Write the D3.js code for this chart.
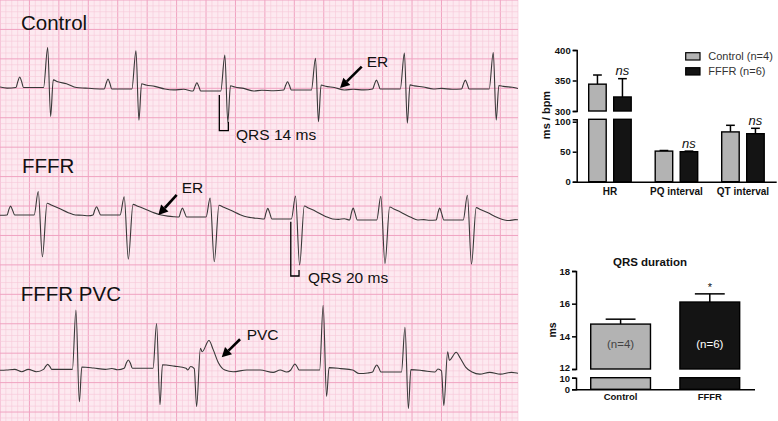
<!DOCTYPE html>
<html>
<head>
<meta charset="utf-8">
<script src="https://cdn.jsdelivr.net/npm/d3@7"></script>
<style>
  body { margin: 0; background: #fff; }
  svg { display: block; font-family: "Liberation Sans", Arial, sans-serif; }
</style>
</head>
<body>
<svg id="fig" width="778" height="421"></svg>
<script>
// ECG data: t in ms (1 small square = 10 ms), amplitudes in mm of paper
// beat fields: p = P wave, r = R peak, s = S depth, j = J hump, b = baseline shift
var controlBeats = [
  {t: 81,  p: 1.8, r: 6.8, s: 4.9, j: 1.3, b: 0.25},
  {t: 231, p: 1.7, r: 6.5, s: 5.3, j: 0.9, b: 0},
  {t: 382, p: 1.4, r: 6.1, s: 5.3, j: 0.9, b: -0.35},
  {t: 536, p: 1.4, r: 5.4, s: 5.4, j: 0.85, b: -0.17},
  {t: 687, p: 1.5, r: 6.1, s: 5.8, j: 0.7, b: 0},
  {t: 838, p: 1.5, r: 6.2, s: 5.3, j: 0.6, b: 0}
];
var controlWiggle = [[0, 0.35], [12, 0.15], [145, 0.15], [160, 0.05], [295, -0.15], [312, -0.05],
  [445, -0.2], [465, -0.3], [600, -0.05], [618, -0.15], [750, 0.1], [768, -0.05], [900, 0]];

var fffrBeats = [
  {t: 65,  p: 1.5, r: 4.0, s: 7.1, j: 2.0, b: 0.34},
  {t: 211, p: 1.4, r: 3.1, s: 7.5, j: 1.8, b: 0.34},
  {t: 357, p: 1.5, r: 3.2, s: 7.6, j: 2.0, b: 0},
  {t: 502, p: 1.8, r: 3.9, s: 7.8, j: 2.2, b: -0.34},
  {t: 647, p: 2.0, r: 4.0, s: 7.4, j: 2.2, b: -0.5},
  {t: 794, p: 2.0, r: 4.2, s: 7.5, j: 2.1, b: -0.5}
];
var fffrWiggle = [[0, 0.3], [140, 0.3], [150, 0.2], [285, 0.15], [295, 0.05], [430, -0.15], [440, -0.25],
  [575, -0.4], [585, -0.3], [720, -0.45], [730, -0.55], [865, -0.6], [875, -0.45], [890, -0.5]];

// type n = normal beat, v = PVC (t at the S nadir); q = pre-bump, n = notch, h = hump
var pvcBeats = [
  {type: 'n', t: 129, p: 0.85, r: 10.1, s: 5.5, j: 0.4, b: 0.1},
  {type: 'n', t: 266, p: 1.4, r: 7.6, s: 6.2, j: 0.6, b: 0.3},
  {type: 'v', t: 334, q: 0.6, s: 6.2, r: 3.7, n: 3.1, h: 5.0, b: 0},
  {type: 'n', t: 549, p: 1.0, r: 11.0, s: 4.5, j: 0.4, b: 0},
  {type: 'n', t: 688, p: 1.2, r: 7.6, s: 6.2, j: 0.4, b: -0.34},
  {type: 'v', t: 754, q: 0.5, s: 5.7, r: 3.45, n: 2.0, h: 3.35, b: -0.34}
];
var pvcWiggle = [[0, -0.05], [11, 0], [25, 0.1], [37, -0.3], [48, 0.1], [62, -0.3], [190, 0.25], [200, 0.05],
  [396, -0.3], [419, 0], [442, 0], [464, -0.4], [476, 0], [487, -0.35], [610, -0.6], [625, -0.5],
  [815, -0.7], [832, -0.4], [850, -0.7], [869, -0.4], [880, -0.55], [895, -0.5]];

// beat shapes: [ms from R, field, factor]
var controlShape = [[-54, 'p', 0], [-50.5, 'p', 0.6], [-47.5, 'p', 1], [-44.5, 'p', 0.6], [-41, 'p', 0],
  [-7, 'r', 0], [0, 'r', 1], [5, 's', -1], [9.5, 'j', 1], [17, 'j', 0.75], [32, 'j', 0.5], [49, 'j', 0]];
var fffrShape = [[-53, 'p', 0], [-50, 'p', 0.6], [-47, 'p', 1], [-44, 'p', 0.6], [-40, 'p', 0],
  [-7, 'r', 0], [0, 'r', 1], [7, 's', -1], [15, 'j', 1], [22, 'j', 0.85], [34, 'j', 0.6], [51, 'j', 0.2], [63, 'j', 0]];
var pvcNormalShape = [[-55, 'p', 0], [-51.5, 'p', 0.6], [-48, 'p', 1], [-44.5, 'p', 0.6], [-41, 'p', 0],
  [-6, 'r', 0], [0, 'r', 1], [5.8, 's', -1], [10, 'j', 1], [30, 'j', 0.6], [50, 'j', 0]];
var pvcEctopicShape = [[-15, 'q', 0], [-10, 'q', 1], [-4, 'q', 0.4], [0, 's', -1], [6.5, 'r', 1], [9.4, 'n', 1],
  [21, 'h', 1], [28, 'h', 0.7], [37, 'h', 0.25], [48, 'h', 0]];

// bar chart data
var c1Cats = ['HR', 'PQ interval', 'QT interval'];
var c1Groups = ['Control', 'FFFR'];
var c1Legend = ['Control (n=4)', 'FFFR (n=6)'];
var c1ControlMean = [344, 51, 83];
var c1ControlSem = [15, 1, 11];
var c1FfffrMean = [323, 50, 80];
var c1FfffrSem = [30, 1, 9];
var c1Sig = ['ns', 'ns', 'ns'];

var qrsGroups = ['Control', 'FFFR'];
var qrsMean = [14.75, 16.1];
var qrsSem = [0.3, 0.5];
var qrsN = ['(n=4)', '(n=6)'];
var qrsSig = ['', '*'];

var svg = d3.select('#fig');
var GRAY = '#b3b3b3', BLACK = '#141414';

// ---------------- ECG paper ----------------
var paperW = 518, paperH = 421;
var ecgX = d3.scaleLinear().domain([0, 880]).range([0, paperW]);
var mmPx = ecgX(10) - ecgX(0);
var paperY = d3.scaleLinear().domain([0, 1]).range([0, mmPx]);

var paper = svg.append('g');
paper.append('rect').attr('width', paperW).attr('height', paperH).attr('fill', '#fde9f0');

var vLines = d3.range(0, 881, 10);
var hLines = d3.range(0, Math.floor(paperH / mmPx) + 1);

paper.selectAll('.vgrid').data(vLines).enter().append('line')
  .attr('x1', function(d) { return ecgX(d); })
  .attr('x2', function(d) { return ecgX(d); })
  .attr('y1', 0).attr('y2', paperH)
  .attr('stroke', function(d) { return d % 50 === 0 ? '#f0a3c1' : '#f7c8d8'; })
  .attr('stroke-width', function(d) { return d % 50 === 0 ? 1 : 0.6; });

paper.selectAll('.hgrid').data(hLines).enter().append('line')
  .attr('y1', function(d) { return paperY(d); })
  .attr('y2', function(d) { return paperY(d); })
  .attr('x1', 0).attr('x2', paperW)
  .attr('stroke', function(d) { return d % 5 === 0 ? '#f0a3c1' : '#f7c8d8'; })
  .attr('stroke-width', function(d) { return d % 5 === 0 ? 1 : 0.6; });

svg.append('clipPath').attr('id', 'paperClip')
  .append('rect').attr('width', paperW).attr('height', paperH);

var traces = [
  {label: 'Control', beats: controlBeats, wiggle: controlWiggle, shapes: {n: controlShape}, base: 89,
   labelAt: [35.7, 10.0]},
  {label: 'FFFR', beats: fffrBeats, wiggle: fffrWiggle, shapes: {n: fffrShape}, base: 217,
   labelAt: [37.4, 7.48]},
  {label: 'FFFR PVC', beats: pvcBeats, wiggle: pvcWiggle, shapes: {n: pvcNormalShape, v: pvcEctopicShape}, base: 370,
   labelAt: [35.2, 11.77]}
];

function tracePoints(tr) {
  var pts = [];
  tr.beats.forEach(function(bt) {
    tr.shapes[bt.type || 'n'].forEach(function(k) {
      pts.push([bt.t + k[0], k[2] * bt[k[1]] + bt.b]);
    });
  });
  tr.wiggle.forEach(function(w) { pts.push(w); });
  pts.sort(function(a, b) { return a[0] - b[0]; });
  return pts;
}

traces.forEach(function(tr) {
  tr.y = d3.scaleLinear().domain([0, 1]).range([tr.base, tr.base - mmPx]);
  var line = d3.line()
    .x(function(d) { return ecgX(d[0]); })
    .y(function(d) { return tr.y(d[1]); })
    .curve(d3.curveMonotoneX);

  svg.append('path')
    .datum(tracePoints(tr))
    .attr('clip-path', 'url(#paperClip)')
    .attr('d', line)
    .attr('fill', 'none')
    .attr('stroke', '#383838')
    .attr('stroke-width', 1.1)
    .attr('stroke-linejoin', 'round');

  svg.append('text')
    .attr('x', ecgX(tr.labelAt[0]))
    .attr('y', tr.y(tr.labelAt[1]))
    .attr('font-size', 20.5)
    .attr('fill', '#111')
    .text(tr.label);
});

// annotations (ms / mm in each trace's own scale)
var arrows = [
  {trace: 0, from: [614.5, 3.79], to: [577.7, 0.17], text: 'ER', textAt: [623, 3.79]},
  {trace: 1, from: [300.2, 3.74], to: [269, 0.34], text: 'ER', textAt: [308.7, 4.03]},
  {trace: 2, from: [407.8, 5.22], to: [376.7, 2.16], text: 'PVC', textAt: [419, 5.1]}
];
var brackets = [
  {trace: 0, t0: 372.6, t1: 387.9, top: -1.02, bottom: -7.08, right: -5.56, text: 'QRS 14 ms', textAt: [401, -8.66]},
  {trace: 1, t0: 494, t1: 508, top: -0.8, bottom: -10.02, right: -9.0, text: 'QRS 20 ms', textAt: [523.3, -11.26]}
];

arrows.forEach(function(a) {
  var ty = traces[a.trace].y;
  var x0 = ecgX(a.from[0]), y0 = ty(a.from[1]);
  var x1 = ecgX(a.to[0]), y1 = ty(a.to[1]);
  var ang = Math.atan2(y1 - y0, x1 - x0);
  var headLen = 9.5, headHalf = 5;
  var bx = x1 - headLen * Math.cos(ang), by = y1 - headLen * Math.sin(ang);
  svg.append('line')
    .attr('x1', x0).attr('y1', y0).attr('x2', bx).attr('y2', by)
    .attr('stroke', '#000').attr('stroke-width', 2.6);
  svg.append('path')
    .attr('d', 'M' + x1 + ',' + y1 +
      'L' + (bx + headHalf * Math.sin(ang)) + ',' + (by - headHalf * Math.cos(ang)) +
      'L' + (bx - headHalf * Math.sin(ang)) + ',' + (by + headHalf * Math.cos(ang)) + 'Z')
    .attr('fill', '#000');
  svg.append('text')
    .attr('x', ecgX(a.textAt[0])).attr('y', ty(a.textAt[1]))
    .attr('font-size', 15.5).attr('fill', '#111')
    .text(a.text);
});

brackets.forEach(function(b) {
  var ty = traces[b.trace].y;
  svg.append('path')
    .attr('d', 'M' + ecgX(b.t0) + ',' + ty(b.top) +
      'V' + ty(b.bottom) + 'H' + ecgX(b.t1) + 'V' + ty(b.right))
    .attr('fill', 'none').attr('stroke', '#000').attr('stroke-width', 1.3);
  svg.append('text')
    .attr('x', ecgX(b.textAt[0])).attr('y', ty(b.textAt[1]))
    .attr('font-size', 15.5).attr('fill', '#111')
    .text(b.text);
});

// ---------------- helpers for broken-axis bars ----------------
function styleAxis(g, size) {
  g.attr('font-family', '"Liberation Sans", Arial, sans-serif')
    .attr('font-size', size).attr('font-weight', 'bold');
  g.selectAll('path, line').attr('stroke', '#000').attr('stroke-width', 1.5);
  g.selectAll('text').attr('fill', '#111');
}

function barSegments(v, low, high, lowTop, highBottom) {
  if (v > lowTop) return [[low(0), low(lowTop)], [high(highBottom), high(v)]];
  return [[low(0), low(v)]];
}

// ---------------- chart 1: HR / PQ / QT ----------------
var c1Left = 576.7, c1Base = 181.7;
var c1Low = d3.scaleLinear().domain([0, 104]).range([c1Base, 119.3]);
var c1High = d3.scaleLinear().domain([300, 400]).range([111, 50]);
function c1Y(v) { return v <= 104 ? c1Low(v) : c1High(v); }
var c1X = d3.scaleBand().domain(c1Cats).range([c1Left, 776.2]);
var c1Inner = d3.scaleBand().domain(c1Groups).range([12, 54.5]).paddingInner(0.3);

var c1Rows = [];
c1Cats.forEach(function(cat, i) {
  c1Rows.push({cat: cat, group: 'Control', mean: c1ControlMean[i], sem: c1ControlSem[i]});
  c1Rows.push({cat: cat, group: 'FFFR', mean: c1FfffrMean[i], sem: c1FfffrSem[i], sig: c1Sig[i]});
});

var c1 = svg.append('g');
c1Rows.forEach(function(d) {
  var x = c1X(d.cat) + c1Inner(d.group), w = c1Inner.bandwidth();
  var cx = x + w / 2, top = c1Y(d.mean + d.sem);
  c1.append('line').attr('x1', cx).attr('x2', cx).attr('y1', c1Y(d.mean)).attr('y2', top)
    .attr('stroke', '#000').attr('stroke-width', 1.5);
  c1.append('line').attr('x1', cx - w / 4).attr('x2', cx + w / 4).attr('y1', top).attr('y2', top)
    .attr('stroke', '#000').attr('stroke-width', 1.5);
  barSegments(d.mean, c1Low, c1High, 104, 300).forEach(function(s) {
    c1.append('rect').attr('x', x).attr('width', w).attr('y', s[1]).attr('height', s[0] - s[1])
      .attr('fill', d.group === 'Control' ? GRAY : BLACK)
      .attr('stroke', '#000').attr('stroke-width', 1.4);
  });
  if (d.sig) {
    c1.append('text').attr('x', cx).attr('y', top - 3.5)
      .attr('text-anchor', 'middle').attr('font-size', 13).attr('font-style', 'italic')
      .attr('fill', '#111').text(d.sig);
  }
});

var c1AxHigh = svg.append('g').attr('transform', 'translate(' + c1Left + ',0)')
  .call(d3.axisLeft(c1High).tickValues([300, 350, 400]).tickSize(4).tickPadding(2));
var c1AxLow = svg.append('g').attr('transform', 'translate(' + c1Left + ',0)')
  .call(d3.axisLeft(c1Low).tickValues([0, 50, 100]).tickSize(4).tickPadding(2));
var c1AxX = svg.append('g').attr('transform', 'translate(0,' + c1Base + ')')
  .call(d3.axisBottom(c1X).tickSize(0).tickPadding(6));
[c1AxHigh, c1AxLow, c1AxX].forEach(function(g) { styleAxis(g, 9.5); });
c1AxX.attr('font-size', 10);

svg.append('text').attr('transform', 'translate(550,115) rotate(-90)')
  .attr('text-anchor', 'middle').attr('font-size', 11).attr('font-weight', 'bold')
  .attr('fill', '#111').text('ms / bpm');

var leg = svg.append('g').attr('transform', 'translate(685.7,52.7)');
c1Legend.forEach(function(name, i) {
  leg.append('rect').attr('x', 0).attr('y', i * 15).attr('width', 14.3).attr('height', 7.3)
    .attr('fill', i === 0 ? GRAY : BLACK).attr('stroke', '#000').attr('stroke-width', 1.2);
  leg.append('text').attr('x', 22.6).attr('y', i * 15 + 7.5)
    .attr('font-size', 11).attr('fill', '#333').text(name);
});

// ---------------- chart 2: QRS duration ----------------
var c2Left = 576, c2Base = 389.3;
var c2Low = d3.scaleLinear().domain([0, 10]).range([c2Base, 377.7]);
var c2High = d3.scaleLinear().domain([12, 18]).range([369, 271]);
function c2Y(v) { return v <= 10 ? c2Low(v) : c2High(v); }
var c2X = d3.scaleBand().domain(qrsGroups).range([c2Left, 754.4]).paddingInner(0.33).paddingOuter(0.165);

var c2 = svg.append('g');
qrsGroups.forEach(function(g, i) {
  var x = c2X(g), w = c2X.bandwidth(), cx = x + w / 2;
  var top = c2Y(qrsMean[i] + qrsSem[i]);
  c2.append('line').attr('x1', cx).attr('x2', cx).attr('y1', c2Y(qrsMean[i])).attr('y2', top)
    .attr('stroke', '#000').attr('stroke-width', 1.5);
  c2.append('line').attr('x1', cx - w / 4).attr('x2', cx + w / 4).attr('y1', top).attr('y2', top)
    .attr('stroke', '#000').attr('stroke-width', 1.5);
  barSegments(qrsMean[i], c2Low, c2High, 10, 12).forEach(function(s) {
    c2.append('rect').attr('x', x).attr('width', w).attr('y', s[1]).attr('height', s[0] - s[1])
      .attr('fill', i === 0 ? GRAY : BLACK)
      .attr('stroke', '#000').attr('stroke-width', 1.4);
  });
  c2.append('text').attr('x', cx).attr('y', c2Y(13.55))
    .attr('text-anchor', 'middle').attr('dominant-baseline', 'central')
    .attr('font-size', 11.5).attr('fill', i === 0 ? '#444' : '#fff').text(qrsN[i]);
  if (qrsSig[i]) {
    c2.append('text').attr('x', cx).attr('y', top - 2.5)
      .attr('text-anchor', 'middle').attr('font-size', 11).attr('fill', '#111').text(qrsSig[i]);
  }
});

var c2AxHigh = svg.append('g').attr('transform', 'translate(' + c2Left + ',0)')
  .call(d3.axisLeft(c2High).tickValues([12, 14, 16, 18]).tickFormat(d3.format('d')).tickSize(4).tickPadding(2));
var c2AxLow = svg.append('g').attr('transform', 'translate(' + c2Left + ',0)')
  .call(d3.axisLeft(c2Low).tickValues([0, 10]).tickFormat(d3.format('d')).tickSize(4).tickPadding(2));
var c2AxX = svg.append('g').attr('transform', 'translate(0,' + c2Base + ')')
  .call(d3.axisBottom(c2X).tickSize(0).tickPadding(4));
[c2AxHigh, c2AxLow, c2AxX].forEach(function(g) { styleAxis(g, 9.5); });
c2AxX.selectAll('.domain').attr('d', 'M' + c2Left + ',0.5H755');
// nudge the 12 / 10 labels apart around the break
c2AxHigh.selectAll('.tick text').filter(function(d) { return d === 12; }).attr('dy', '0.15em');
c2AxLow.selectAll('.tick text').filter(function(d) { return d === 10; }).attr('dy', '0.45em');

svg.append('text').attr('transform', 'translate(556,330) rotate(-90)')
  .attr('text-anchor', 'middle').attr('font-size', 10.5).attr('font-weight', 'bold')
  .attr('fill', '#111').text('ms');

svg.append('text').attr('x', 650).attr('y', 266)
  .attr('text-anchor', 'middle').attr('font-size', 11.5).attr('font-weight', 'bold')
  .attr('fill', '#111').text('QRS duration');
</script>
</body>
</html>
